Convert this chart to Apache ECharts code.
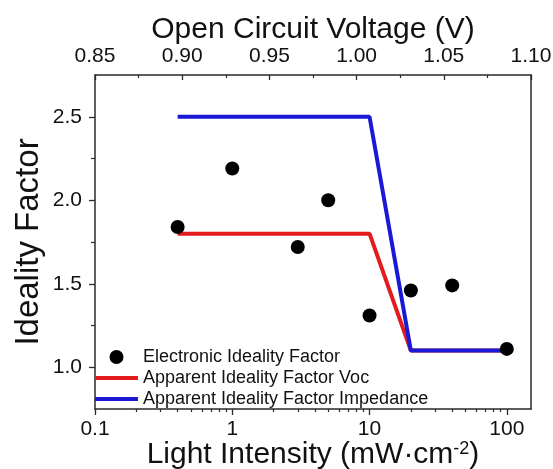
<!DOCTYPE html>
<html>
<head>
<meta charset="utf-8">
<script src="https://cdn.jsdelivr.net/npm/echarts@6/dist/echarts.min.js"></script>
<style>
html,body{margin:0;padding:0;background:#fff;}
#chart{width:553px;height:469px;}
</style>
</head>
<body>
<div id="chart"></div>
<script>
// ---- data ----
const intensity = [0.4, 1, 3, 5, 10, 20, 40, 100];
const electronicIF = [1.84, 2.19, 1.72, 2.00, 1.31, 1.46, 1.49, 1.11];
const apparentX = [0.4, 10, 20, 100];
const apparentVoc = [1.80, 1.80, 1.10, 1.10];
const apparentImpedance = [2.50, 2.50, 1.10, 1.10];
// ---- ticks ----
const xMajorTicks = [0.1, 1, 10, 100];
const xMinorTicks = [0.2, 0.3, 0.4, 0.5, 0.6, 0.7, 0.8, 0.9, 2, 3, 4, 5, 6, 7, 8, 9, 20, 30, 40, 50, 60, 70, 80, 90];
const yMajorTicks = [1.0, 1.5, 2.0, 2.5];
const yMinorTicks = [1.25, 1.75, 2.25];
const seriesNames = ['Electronic Ideality Factor', 'Apparent Ideality Factor Voc', 'Apparent Ideality Factor Impedance'];

const FONT = '"Liberation Sans", Arial, sans-serif';
const AX = '#2a2a2a';
const RED = '#e31b1f';
const BLUE = '#1a1ad6';
const LINE_ICON = 'path://M0 0H43V4H0Z';

const pairs = (xs, ys) => xs.map((x, i) => [x, ys[i]]);

const chart = echarts.init(document.getElementById('chart'));
chart.setOption({
  animation: false,
  backgroundColor: '#fff',
  textStyle: { fontFamily: FONT },
  grid: { left: 95, right: 22, top: 75, bottom: 60, containLabel: false, outerBoundsMode: 'none' },
  legend: {
    orient: 'vertical',
    left: 95, top: 348,
    padding: 0,
    itemWidth: 43, itemHeight: 14, itemGap: 3,
    symbolKeepAspect: true,
    textStyle: { fontFamily: FONT, fontSize: 18, color: '#111' },
    data: [
      { name: seriesNames[0], icon: 'circle' },
      { name: seriesNames[1], icon: LINE_ICON },
      { name: seriesNames[2], icon: LINE_ICON }
    ]
  },
  xAxis: [
    {
      type: 'log', logBase: 10, min: 0.1, max: 150, position: 'bottom',
      name: 'Light Intensity (mW·cm{sup|-2})',
      nameLocation: 'middle', nameGap: 31, nameMoveOverlap: false,
      nameTextStyle: { fontFamily: FONT, fontSize: 30, color: '#111',
        rich: { sup: { fontFamily: FONT, fontSize: 18, color: '#111', verticalAlign: 'top' } } },
      axisLine: { show: true, onZero: false, lineStyle: { color: AX, width: 1.5 } },
      axisTick: { show: true, length: 6, customValues: xMajorTicks, lineStyle: { color: AX, width: 1.3 } },
      axisLabel: { customValues: xMajorTicks, margin: 10, fontFamily: FONT, fontSize: 21, color: '#111',
        formatter: v => String(v) },
      splitLine: { show: false }
    },
    {
      type: 'log', logBase: 10, min: 0.1, max: 150, position: 'bottom',
      axisLine: { show: false, onZero: false },
      axisTick: { show: true, length: 3, customValues: xMinorTicks, lineStyle: { color: AX, width: 1.2 } },
      axisLabel: { show: false },
      splitLine: { show: false }
    },
    {
      type: 'value', min: 0.85, max: 1.10, interval: 0.05, position: 'top',
      name: 'Open Circuit Voltage (V)',
      nameLocation: 'middle', nameGap: 30, nameMoveOverlap: false,
      nameTextStyle: { fontFamily: FONT, fontSize: 30, color: '#111' },
      axisLine: { show: true, onZero: false, lineStyle: { color: AX, width: 1.5 } },
      axisTick: { show: true, inside: true, length: 5, lineStyle: { color: AX, width: 1.3 } },
      minorTick: { show: true, splitNumber: 2, length: 3, lineStyle: { color: AX, width: 1.2 } },
      axisLabel: { margin: 8, fontFamily: FONT, fontSize: 21, color: '#111',
        formatter: v => v.toFixed(2) },
      splitLine: { show: false }
    }
  ],
  yAxis: [
    {
      type: 'value', min: 0.75, max: 2.75, position: 'left',
      name: 'Ideality Factor',
      nameLocation: 'middle', nameGap: 50, nameMoveOverlap: false,
      nameTextStyle: { fontFamily: FONT, fontSize: 33, color: '#111' },
      axisLine: { show: true, onZero: false, lineStyle: { color: AX, width: 1.5 } },
      axisTick: { show: true, length: 6, customValues: yMajorTicks, lineStyle: { color: AX, width: 1.3 } },
      axisLabel: { customValues: yMajorTicks, margin: 13, fontFamily: FONT, fontSize: 21, color: '#111',
        formatter: v => v.toFixed(1) },
      splitLine: { show: false }
    },
    {
      type: 'value', min: 0.75, max: 2.75, position: 'left',
      axisLine: { show: false, onZero: false },
      axisTick: { show: true, length: 4, customValues: yMinorTicks, lineStyle: { color: AX, width: 1.2 } },
      axisLabel: { show: false },
      splitLine: { show: false }
    },
    {
      type: 'value', min: 0.75, max: 2.75, position: 'right',
      axisLine: { show: true, onZero: false, lineStyle: { color: AX, width: 1.5 } },
      axisTick: { show: false },
      axisLabel: { show: false },
      splitLine: { show: false }
    }
  ],
  series: [
    {
      name: seriesNames[1], type: 'line', xAxisIndex: 0, yAxisIndex: 0,
      data: pairs(apparentX, apparentVoc),
      symbol: 'none', lineStyle: { color: RED, width: 4 }, itemStyle: { color: RED }, z: 2
    },
    {
      name: seriesNames[2], type: 'line', xAxisIndex: 0, yAxisIndex: 0,
      data: pairs(apparentX, apparentImpedance),
      symbol: 'none', lineStyle: { color: BLUE, width: 4 }, itemStyle: { color: BLUE }, z: 3
    },
    {
      name: seriesNames[0], type: 'scatter', xAxisIndex: 0, yAxisIndex: 0,
      data: pairs(intensity, electronicIF),
      symbol: 'circle', symbolSize: 14, itemStyle: { color: '#000', opacity: 1 }, z: 4
    }
  ]
});
</script>
</body>
</html>
